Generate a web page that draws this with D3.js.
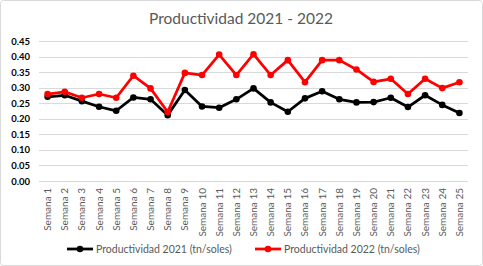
<!DOCTYPE html>
<html><head><meta charset="utf-8">
<script src="https://cdn.jsdelivr.net/npm/d3@7"></script>
<style>body{margin:0;background:#fff}svg{display:block}</style>
</head><body>
<script>
const categories = ["Semana 1","Semana 2","Semana 3","Semana 4","Semana 5","Semana 6","Semana 7","Semana 8","Semana 9","Semana 10","Semana 11","Semana 12","Semana 13","Semana 14","Semana 15","Semana 16","Semana 17","Semana 18","Semana 19","Semana 20","Semana 21","Semana 22","Semana 23","Semana 24","Semana 25"];
const prod2021 = [0.271,0.276,0.257,0.239,0.226,0.269,0.263,0.212,0.293,0.240,0.236,0.263,0.298,0.253,0.223,0.266,0.289,0.263,0.253,0.254,0.268,0.238,0.276,0.245,0.219];
const prod2022 = [0.280,0.287,0.268,0.280,0.268,0.339,0.298,0.222,0.348,0.341,0.407,0.341,0.408,0.341,0.389,0.318,0.389,0.389,0.359,0.319,0.329,0.280,0.329,0.299,0.318];
const yTicks = [0,0.05,0.10,0.15,0.20,0.25,0.30,0.35,0.40,0.45];
const seriesNames = ["Productividad 2021 (tn/soles)","Productividad 2022 (tn/soles)"];
const colors = ["#000000","#ff0000"];

const W = 483, H = 266;
const font = "Lato, 'Open Sans', sans-serif";
const svg = d3.select("body").append("svg").attr("width", W).attr("height", H);
svg.append("rect").attr("x",0.5).attr("y",0.5).attr("width",W-1).attr("height",H-1)
  .attr("fill","#fff").attr("stroke","#d9d9d9").attr("rx",3);

const m = {left:39, right:468, top:41.2, bottom:181};
const x = d3.scaleBand().domain(categories).range([m.left, m.right]);
const y = d3.scaleLinear().domain([0,0.45]).range([m.bottom, m.top]);

svg.append("text").attr("x", 241).attr("y", 24).attr("text-anchor","middle")
  .attr("font-family", font).attr("font-size", 15.5).attr("fill","#595959")
  .text("Productividad 2021 - 2022");

// grid
svg.append("g").selectAll("line").data(yTicks).join("line")
  .attr("x1", m.left).attr("x2", m.right)
  .attr("y1", d=>Math.round(y(d))+0.5).attr("y2", d=>Math.round(y(d))+0.5)
  .attr("stroke","#d9d9d9").attr("stroke-width",1);

// y axis labels
const yAxis = d3.axisLeft(y).tickValues(yTicks).tickFormat(d3.format(".2f")).tickSize(0).tickPadding(0);
const gy = svg.append("g").attr("transform", `translate(${m.left-9},0)`).call(yAxis);
gy.select(".domain").remove();
gy.selectAll("text").attr("font-family", font).attr("font-size", 9.5).attr("font-weight","bold").attr("fill","#000");

// x axis labels
const xAxis = d3.axisBottom(x).tickSize(0).tickPadding(0);
const gx = svg.append("g").attr("transform", `translate(0,${m.bottom})`).call(xAxis);
gx.select(".domain").remove();
gx.selectAll("text").attr("font-family", font).attr("font-size", 10).attr("fill","#595959")
  .attr("text-anchor","end").attr("dy",null).attr("y",0)
  .attr("transform","translate(3.5,7) rotate(-90)");

const series = [prod2021, prod2022];
const line = d3.line().x((d,i)=>x(categories[i])+x.bandwidth()/2).y(d=>y(d));
series.forEach((s,k)=>{
  svg.append("path").datum(s).attr("d", line).attr("fill","none")
    .attr("stroke", colors[k]).attr("stroke-width", 2.75).attr("stroke-linejoin","round");
  svg.append("g").selectAll("circle").data(s).join("circle")
    .attr("cx",(d,i)=>x(categories[i])+x.bandwidth()/2).attr("cy", d=>y(d))
    .attr("r",3.3).attr("fill",colors[k]);
});

// legend
const legX = [67, 255];
seriesNames.forEach((n,k)=>{
  const g = svg.append("g").attr("transform", `translate(${legX[k]},249)`);
  g.append("line").attr("x1",0).attr("x2",26).attr("y1",0).attr("y2",0).attr("stroke",colors[k]).attr("stroke-width",2.75);
  g.append("circle").attr("cx",13).attr("cy",0).attr("r",3.3).attr("fill",colors[k]);
  g.append("text").attr("x",29).attr("y",3.8).attr("font-family",font).attr("font-size",10.5)
    .attr("fill","#595959").text(n);
});
</script>
</body></html>
